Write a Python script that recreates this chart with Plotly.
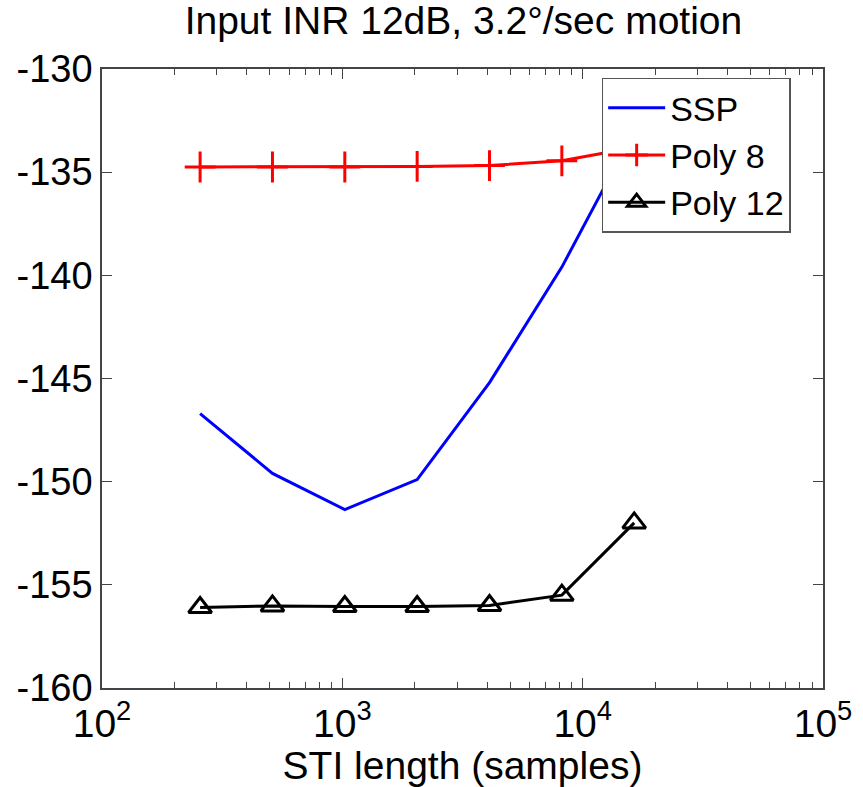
import plotly.graph_objects as go

sti_length = [256, 512, 1024, 2048, 4096, 8192, 16384]
ssp = [-146.7, -149.6, -151.35, -149.9, -145.2, -139.6, -133.0]
poly8 = [-134.75, -134.75, -134.75, -134.72, -134.68, -134.45, -133.8]
poly12 = [-156.1, -156.02, -156.05, -156.05, -156.0, -155.5, -152.0]

x_tickvals = [100, 1000, 10000, 100000]
x_ticktext = ["10<sup>2</sup>", "10<sup>3</sup>", "10<sup>4</sup>", "10<sup>5</sup>"]
y_tickvals = [-160, -155, -150, -145, -140, -135, -130]
y_ticktext = ["-160", "-155", "-150", "-145", "-140", "-135", "-130"]
x_minor = [m * 10 ** e for e in (2, 3, 4) for m in range(2, 10)]

FONT = "Liberation Sans, Arial, sans-serif"

fig = go.Figure()
fig.add_trace(go.Scatter(x=sti_length, y=ssp, mode="lines", name="SSP",
                         line=dict(color="#0000ff", width=3)))
fig.add_trace(go.Scatter(x=sti_length, y=poly8, mode="lines+markers", name="Poly 8",
                         line=dict(color="#ff0000", width=3),
                         marker=dict(symbol="cross-thin-open", size=22,
                                     line=dict(color="#ff0000", width=3))))
fig.add_trace(go.Scatter(x=sti_length, y=poly12, mode="lines+markers", name="Poly 12",
                         line=dict(color="#000000", width=3),
                         marker=dict(symbol="triangle-up-open", size=20, color="#000000",
                                     line=dict(color="#000000", width=3))))

fig.update_layout(
    width=863, height=787,
    margin=dict(l=102, r=40, t=69, b=99),
    paper_bgcolor="white", plot_bgcolor="white",
    font=dict(family=FONT, size=36, color="black"),
    title=dict(text="Input INR 12dB, 3.2°/sec motion", x=0.537, xanchor="center",
               y=0.974, yanchor="middle", font=dict(family=FONT, size=39, color="black")),
    showlegend=True,
    legend=dict(x=0.693, y=0.986, xanchor="left", yanchor="top",
                bgcolor="white", bordercolor="#555555", borderwidth=1.5,
                font=dict(family=FONT, size=34), tracegroupgap=0, itemwidth=57),
    xaxis=dict(type="log", range=[2, 5], tickvals=x_tickvals, ticktext=x_ticktext,
               ticks="inside", ticklen=10, tickwidth=1, tickcolor="#444",
               showline=True, linecolor="#444", linewidth=1.5, mirror="ticks",
               showgrid=False, zeroline=False, automargin=False,
               minor=dict(tickvals=x_minor, ticks="inside", ticklen=6,
                          tickcolor="#444", showgrid=False),
               title=dict(text="STI length (samples)", standoff=0,
                          font=dict(family=FONT, size=39)),
               tickfont=dict(family=FONT, size=39)),
    yaxis=dict(range=[-160, -130], tickvals=y_tickvals, ticktext=y_ticktext,
               ticks="inside", ticklen=10, tickwidth=1, tickcolor="#444",
               showline=True, linecolor="#444", linewidth=1.5, mirror="ticks",
               showgrid=False, zeroline=False, automargin=False,
               tickfont=dict(family=FONT, size=38)),
)

fig.write_html("out.html")
